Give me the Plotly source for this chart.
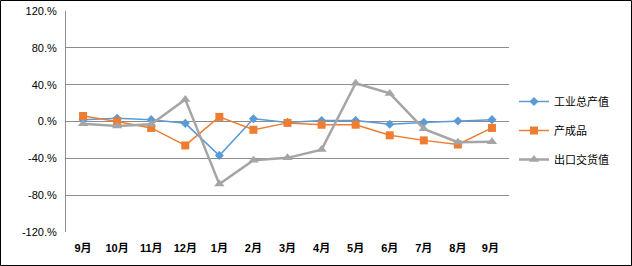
import plotly.graph_objects as go

months = ["9月", "10月", "11月", "12月", "1月", "2月", "3月", "4月", "5月", "6月", "7月", "8月", "9月 "]
industrial = [2, 3.5, 2, -2, -37, 3, -1, 1, 1, -3, -1, 0.5, 2]
finished = [6, 0, -7, -26, 5, -9, -1.5, -3.5, -3.5, -15, -20.5, -25, -7]
export = [-2.5, -5, -3, 24, -68, -42, -39.5, -30.5, 41.5, 30.5, -8, -22.5, -22]

ytick_vals = [-120, -80, -40, 0, 40, 80, 120]
ytick_text = ["-120.%", "-80.%", "-40.%", "0.%", "40.%", "80.%", "120.%"]

FONT = "Liberation Sans, Noto Sans CJK SC, sans-serif"

fig = go.Figure()
fig.add_trace(go.Scatter(x=months, y=industrial, name="工业总产值", mode="lines+markers",
                         line=dict(color="#5B9BD5", width=1.5),
                         marker=dict(symbol="diamond", size=7, color="#5B9BD5"),
                         legendgroup="a"))
fig.add_trace(go.Scatter(x=months, y=finished, name="产成品", mode="lines+markers",
                         line=dict(color="#ED7D31", width=1.5),
                         marker=dict(symbol="square", size=8, color="#ED7D31"),
                         legendgroup="b"))
fig.add_trace(go.Scatter(x=months, y=export, name="出口交货值", mode="lines+markers",
                         line=dict(color="#A5A5A5", width=2.5),
                         marker=dict(symbol="triangle-up", size=9, color="#A5A5A5"),
                         legendgroup="c"))

W, H = 632, 266
L, R, T, B = 66, 123, 11, 34
pw, ph = W - L - R, H - T - B

def px2x(px):
    return (px - L) / pw

def py2y(py):
    return (H - B - py) / ph

fig.update_layout(
    width=W, height=H,
    margin=dict(l=L, r=R, t=T, b=B, autoexpand=False),
    paper_bgcolor="white", plot_bgcolor="white",
    font=dict(family=FONT, size=11, color="#000000"),
    showlegend=True,
    legend=dict(x=px2x(514), y=py2y(87), xanchor="left", yanchor="top",
                traceorder="grouped", tracegroupgap=10,
                font=dict(size=11, family=FONT), bgcolor="rgba(0,0,0,0)"),
    xaxis=dict(type="category", showgrid=False, showline=False, zeroline=False,
               automargin=False, ticklabelstandoff=8,
               ticks="", tickfont=dict(size=11, family=FONT, weight="bold"),
               range=[-0.5, len(months) - 0.5]),
    yaxis=dict(range=[-120, 120], tickvals=ytick_vals, ticktext=ytick_text,
               automargin=False, ticklabelstandoff=6,
               showgrid=True, gridcolor="#8C8C8C", gridwidth=1,
               zeroline=False, showline=True, linecolor="#8C8C8C", linewidth=1,
               ticks="", ticklen=0, tickfont=dict(size=11, family=FONT)),
    shapes=[dict(type="rect", xref="paper", yref="paper",
                 x0=px2x(0.5), x1=px2x(W - 0.5), y0=py2y(H - 0.5), y1=py2y(0.5),
                 line=dict(color="black", width=1), layer="above")],
)

fig.write_html("out.html")
